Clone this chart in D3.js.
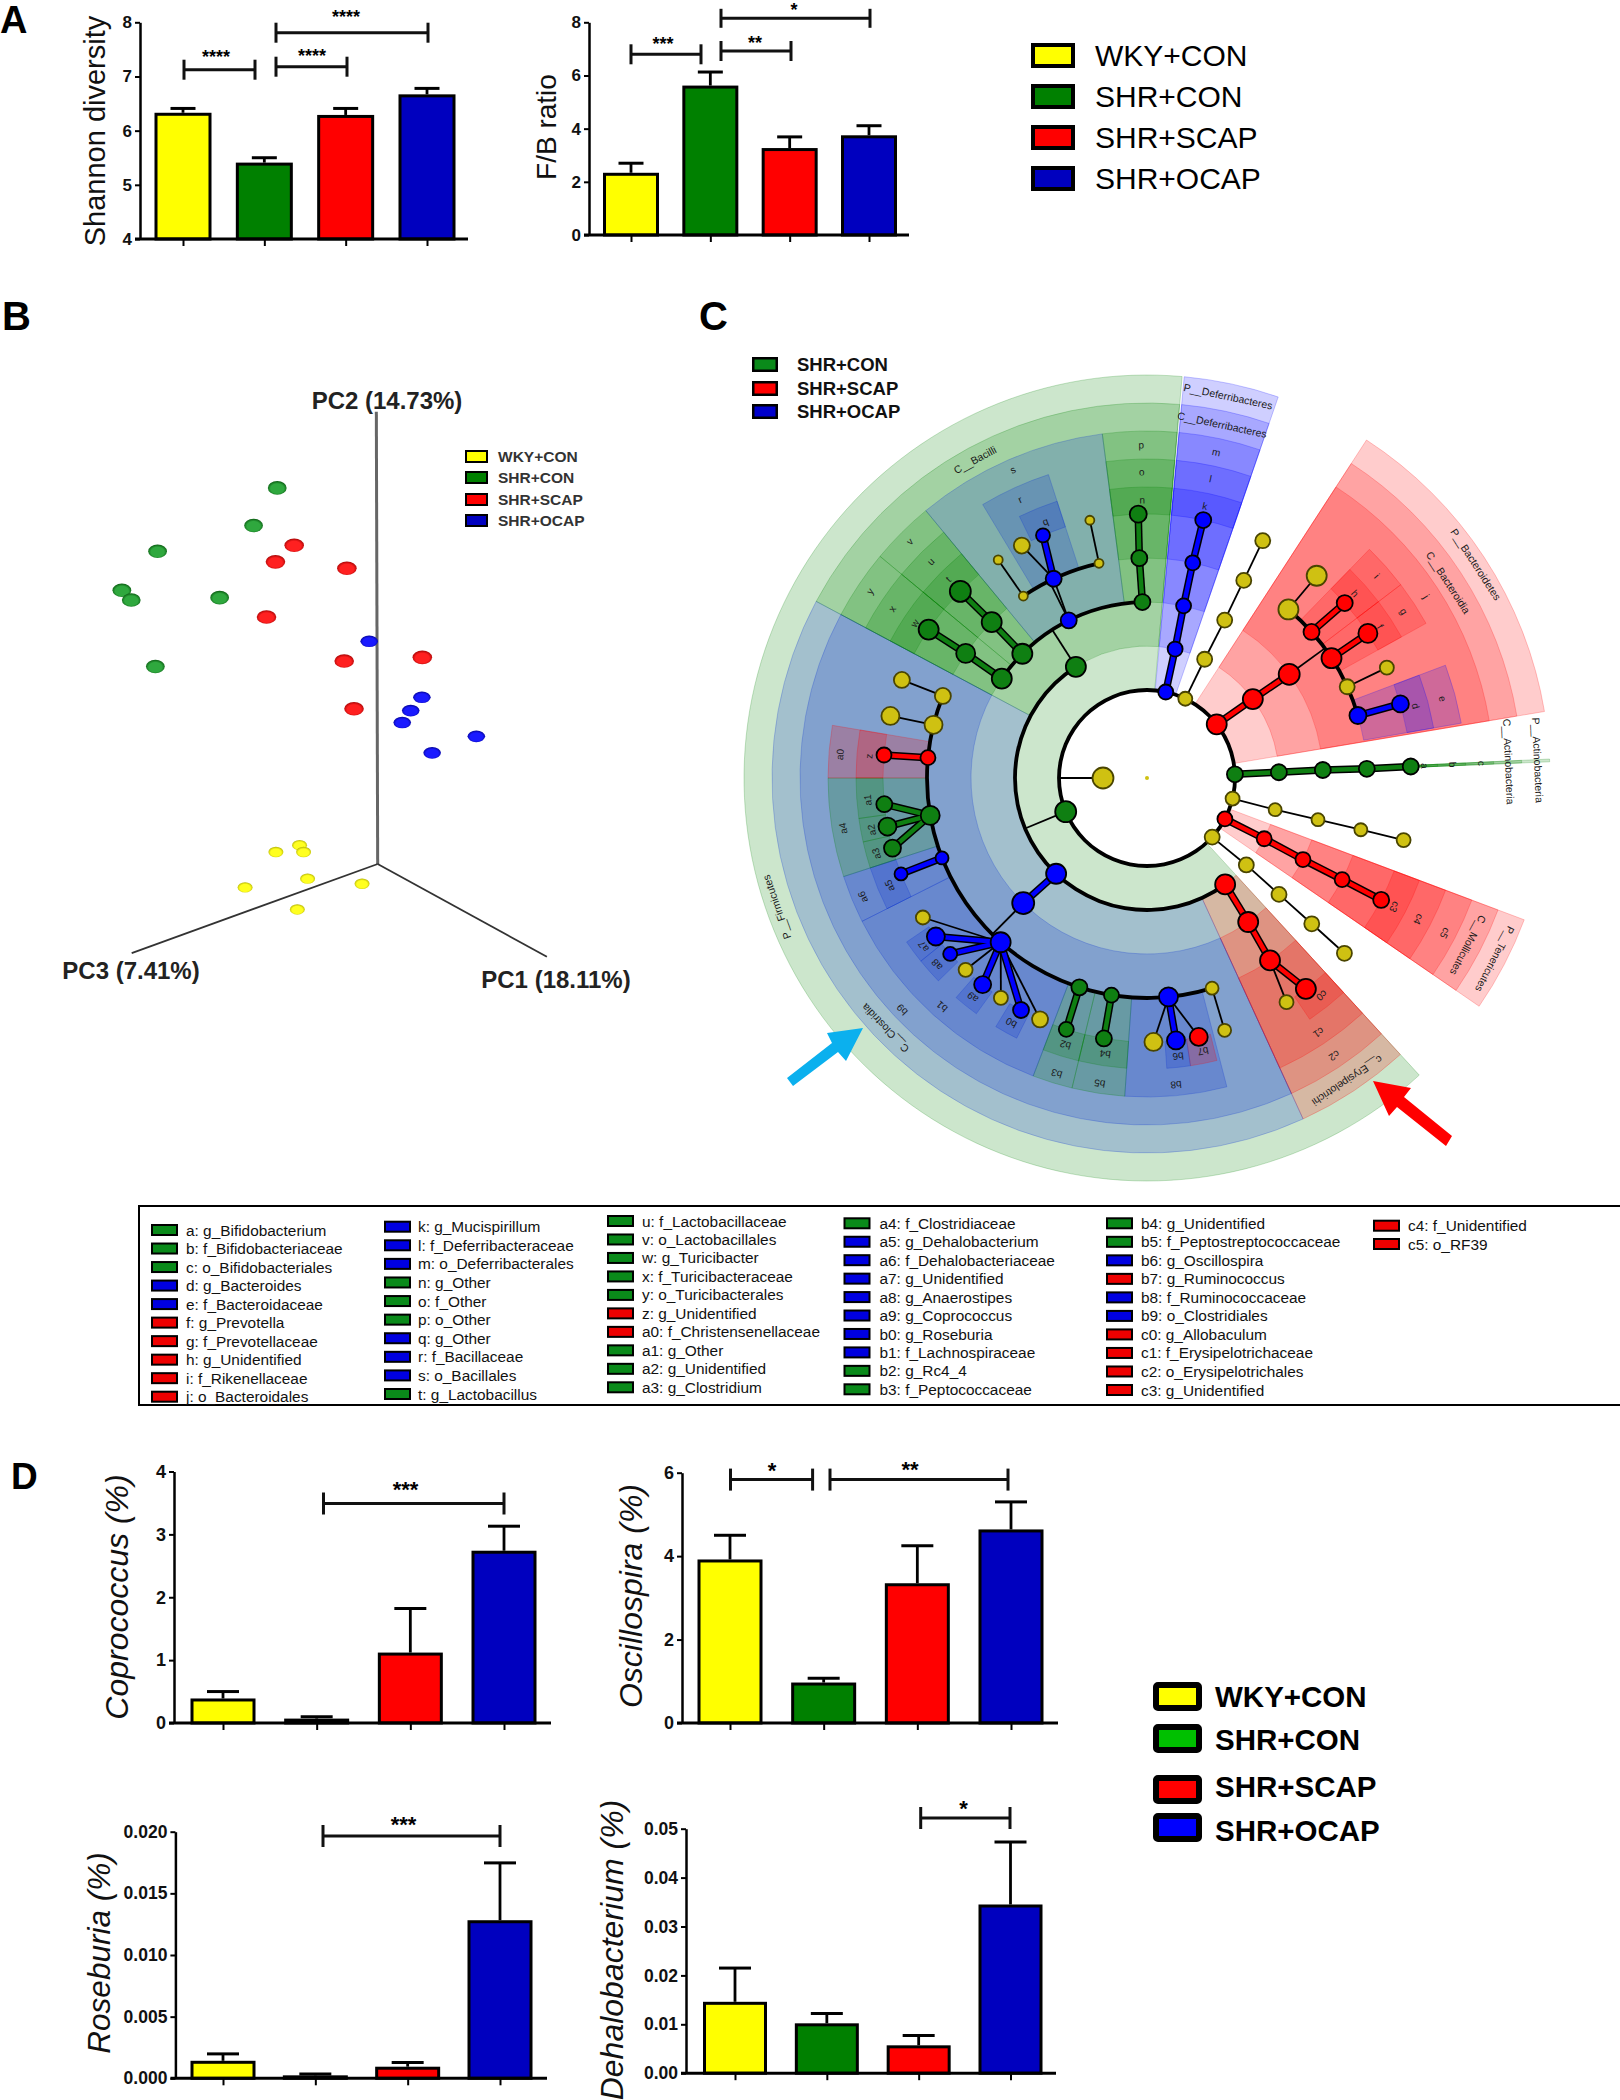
<!DOCTYPE html>
<html><head><meta charset="utf-8">
<script src="https://cdn.jsdelivr.net/npm/d3@7/dist/d3.min.js"></script>
<style>html,body{margin:0;padding:0;background:#fff}svg{display:block}text{font-family:"Liberation Sans",Arial,sans-serif}</style>
</head><body><svg id="c" width="1620" height="2100" viewBox="0 0 1620 2100"></svg>
<script>
// ---------- DATA ----------
const groups = ["WKY+CON","SHR+CON","SHR+SCAP","SHR+OCAP"];
const barColors = ["#ffff00","#008000","#ff0000","#0000bf"];
const shannonMean = [6.33,5.41,6.29,6.67], shannonTop = [6.41,5.50,6.41,6.78];
const fbMean = [2.34,5.62,3.27,3.75], fbTop = [2.70,6.13,3.69,4.11];
const coproMean = [0.39,0.07,1.12,2.74], coproTop = [0.50,0.10,1.82,3.13];
const oscilloMean = [3.92,0.97,3.35,4.64], oscilloTop = [4.50,1.07,4.25,5.30];
const rosebMean = [0.00142,0.00024,0.00094,0.01282], rosebTop = [0.00198,0.00035,0.00128,0.01747];
const dehaloMean = [0.0146,0.0102,0.0057,0.0345], dehaloTop = [0.0215,0.0122,0.0077,0.0473];

// PCoA projected scores (arbitrary screen-plane units)
const pcaGreenX=[621,568,353,273,294,492,348], pcaGreenY=[431,513,569,654,675,670,820];
const pcaRedX=[659,617,777,597,771,946,793], pcaRedY=[556,592,606,712,808,800,912];
const pcaBlueX=[827,945,920,901,1067,968], pcaBlueY=[765,887,916,942,972,1008];
const pcaYellowX=[671,680,618,689,549,811,666], pcaYellowY=[1209,1224,1224,1282,1301,1293,1349];

// Cladogram: shaded clades [level, startDeg, endDeg, colourKey]
const cladeWedges=[
[2,5.3,19,'b'],[2,33,80.5,'r'],[2,87.3,87.7,'g'],[2,110.6,124.5,'r'],[2,137.5,365,'g'],
[3,5.3,19,'b'],[3,33,80.5,'r'],[3,87.3,87.7,'g'],[3,110.6,124.5,'r'],[3,137.5,155.4,'r'],[3,155.4,298.1,'B'],[3,298.1,365,'g'],
[4,5.3,19,'b'],[4,33,80.5,'r'],[4,87.3,87.7,'g'],[4,110.6,124.5,'r'],[4,137.5,155.4,'r'],[4,155.4,298.1,'B'],[4,298.1,309.7,'g'],[4,309.7,320.4,'g'],[4,320.4,352.6,'B'],[4,352.6,365,'g'],
[5,5.3,19,'b'],[5,44.2,52.7,'r'],[5,52.7,61,'r'],[5,69.3,80.1,'b'],[5,87.3,87.7,'g'],[5,110.6,124.5,'r'],[5,137.5,155.4,'r'],[5,165.5,184,'B'],[5,184,193.6,'g'],[5,193.6,200.9,'g'],[5,200.9,243.3,'B'],[5,243.3,252,'B'],[5,252,270,'g'],[5,270,279.5,'r'],[5,298.1,309.7,'g'],[5,309.7,320.4,'g'],[5,329,342,'B'],[5,352.6,365,'g'],
[6,5.3,19,'b'],[6,44.2,52.7,'r'],[6,52.7,61,'r'],[6,69.3,80.1,'b'],[6,87.3,87.7,'g'],[6,110.6,124.5,'r'],[6,137.5,146,'r'],[6,166.1,171.4,'r'],[6,171.4,176.1,'B'],[6,184,193.6,'g'],[6,193.6,200.9,'g'],[6,206.6,211.3,'B'],[6,215.9,221,'B'],[6,225.8,231,'B'],[6,231,235.7,'B'],[6,243.3,252,'B'],[6,252,257.3,'g'],[6,257.3,262,'g'],[6,262,270,'g'],[6,270,279.5,'r'],[6,298.1,309.7,'g'],[6,309.7,320.4,'g'],[6,334,342,'B'],[6,352.6,365,'g']];
// arcs [level, startDeg, endDeg]; stems [level, deg]
const treeArcs=[[2,0,360],[3,143.7,327.4],[4,304.4,358.5],[5,40,73.5],[5,325.8,347.4],[5,162.8,291.9]];
const treeStems=[[1,270],[2,247.5],[3,327.4],[4,224.7],[4,333.6],[4,53.9]];
// nodes [id, level, deg, colourKey, size, parent, link]
const treeNodes=[
["R",0,0,'y',2],["K",1,270,'y',10.5],
["F",2,247.5,'g',10.5],["De",2,12.3,'b',7.5],["Y1",2,25.8,'y',7],["Ba",2,52.4,'r',10],["Ac",2,87.6,'g',8],["Y2",2,103.5,'y',7],["Te",2,117.7,'r',7.5],["Y3",2,132.2,'y',7.5],
["De3",3,12.3,'b',7.5,"De",'c'],["De4",4,12,'b',7.5,"De3",'c'],["De5",5,12,'b',7.5,"De4",'c'],["De6",6,12.3,'b',8,"De5",'c'],
["Y13",3,25.9,'y',7.5,"Y1",'t'],["Y14",4,26.2,'y',7.5,"Y13",'t'],["Y15",5,26.1,'y',7.5,"Y14",'t'],["Y16",6,26,'y',7.5,"Y15",'t'],
["Ba3",3,53.3,'r',10,"Ba",'c'],["Ba4",4,53.9,'r',10.5,"Ba3",'c'],
["Bf1",5,40,'y',10],["Bf2",5,48.4,'r',8],["Bf3",5,57,'r',10],["Bf4",5,65.5,'y',7.5],["Bf5",5,73.5,'b',8.5],
["Bg1",6,40,'y',10,"Bf1",'t'],["Bg2",6,48.5,'r',8,"Bf2",'c'],["Bg3",6,56.8,'r',9.5,"Bf3",'c'],["Bg4",6,65.3,'y',7,"Bf4",'t'],["Bg5",6,73.7,'b',8.5,"Bf5",'c'],
["Ac3",3,87.5,'g',8,"Ac",'c'],["Ac4",4,87.4,'g',8,"Ac3",'c'],["Ac5",5,87.6,'g',8,"Ac4",'c'],["Ac6",6,87.5,'g',8,"Ac5",'c'],
["Y23",3,103.9,'y',6.5,"Y2",'t'],["Y24",4,103.7,'y',6.5,"Y23",'t'],["Y25",5,103.6,'y',6.5,"Y24",'t'],["Y26",6,103.6,'y',7,"Y25",'t'],
["Te3",3,117.4,'r',7.5,"Te",'c'],["Te4",4,117.6,'r',7.5,"Te3",'c'],["Te5",5,117.5,'r',7.5,"Te4",'c'],["Te6",6,117.5,'r',8,"Te5",'c'],
["Y33",3,131.2,'y',7.5,"Y3",'t'],["Y34",4,131.4,'y',7.5,"Y33",'t'],["Y35",5,131.5,'y',7.5,"Y34",'t'],["Y36",6,131.6,'y',7.5,"Y35",'t'],
["Er",3,143.7,'r',10],["Er4",4,144.9,'r',10,"Er",'c'],["Er5",5,146,'r',10,"Er4",'c'],["Er6",6,143,'r',10,"Er5",'c'],["Er7",6,148.1,'y',7,"Er5",'t'],
["Cl",3,223.5,'b',10],["Cl4",4,224.7,'b',11,"Cl",'c'],
["Fa1",5,162.8,'y',6.5],["Ga1",6,162.9,'y',6.5,"Fa1",'t'],
["Fa2",5,174.4,'b',9.5],["Ga2",6,178.6,'y',9,"Fa2",'t'],["Ga3",6,173.7,'b',9,"Fa2",'c'],["Ga4",6,168.7,'r',9,"Fa2",'t'],
["Fa3",5,189.3,'g',7.5],["Ga5",6,189.4,'g',8,"Fa3",'c'],
["Fa4",5,197.9,'g',8],["Ga6",6,197.8,'g',7.5,"Fa4",'c'],
["Fa5",5,221.7,'b',10],["Ga7",6,238.1,'y',7,"Fa5",'t'],["Ga8",6,233.1,'b',9,"Fa5",'c'],["Ga9",6,228.2,'b',7,"Fa5",'c'],["Ga10",6,223.4,'y',7,"Fa5",'t'],["Ga11",6,218.5,'b',8.5,"Fa5",'c'],["Ga12",6,213.6,'y',7,"Fa5",'t'],["Ga13",6,208.5,'b',8,"Fa5",'c'],["Ga14",6,203.9,'y',8,"Fa5",'t'],
["Fa6",5,248.7,'b',6.5],["Ga15",6,248.7,'b',6.5,"Fa6",'c'],
["Fa7",5,260.2,'g',9.5],["Ga16",6,264.3,'g',8,"Fa7",'c'],["Ga17",6,259.4,'g',9,"Fa7",'c'],["Ga18",6,254.6,'g',8.5,"Fa7",'c'],
["Fa8",5,275.3,'r',7.5],["Ga19",6,275,'r',7.5,"Fa8",'c'],
["Fa9",5,284,'y',9],["Ga20",6,283.6,'y',9,"Fa9",'t'],
["Fa10",5,291.9,'y',8],["Ga21",6,291.8,'y',8,"Fa10",'t'],
["Bc",3,327.4,'g',10],
["O1",4,304.4,'g',10],["O2",4,314.9,'g',10],["O3",4,333.6,'b',8],["O4",4,358.5,'g',8],
["O1f",5,304.5,'g',9.5,"O1",'c'],["O1g",6,304.2,'g',10,"O1f",'c'],
["O2f",5,315.1,'g',10,"O2",'c'],["O2g",6,315,'g',10.5,"O2f",'c'],
["O3a",5,325.8,'y',4.5],["O3b",5,334.9,'b',8,"O3",'t'],["O3c",5,347.4,'y',4.5],
["O3d",6,325.7,'y',4.5,"O3a",'t'],["O3e",6,331.7,'y',8,"O3b",'t'],["O3f",6,336.8,'b',7,"O3b",'c'],["O3g",6,347.5,'y',4.5,"O3c",'t'],
["O4f",5,358,'g',8,"O4",'c'],["O4g",6,358.1,'g',8.5,"O4f",'c']];
// clade labels [text, radius, deg]
const cladeLabels=[
["P__Deferribacteres",390,12],["C__Deferribacteres",361,12],["m",333,12],["l",306,12],["k",278,12],
["P__Bacteroidetes",392,57],["C__Bacteroidia",359,57],["j",333,57],["i",306,48.7],["h",278,48.4],["g",306,57],["f",278,57],["e",306,75],["d",278,75],
["P__Actinobacteria",391,87.4],["C__Actinobacteria",362,87.4],["c",335,87.5],["b",306,87.5],["a",278,87.5],
["P__Tenericutes",392,117.5],["C__Mollicutes",362,117.5],["c5",336,117.5],["c4",306,117.5],["c3",279,117.5],
["c__Erysipelotrichi",363,146.5],["c2",335,146],["c1",307,146],["c0",279,141.2],
["b8",308,174.6],["b7",279,168.4],["b6",280,173.6],["b5",309,188.8],["b4",279,188.6],["b3",309,197],["b2",279,197],["b1",307,221.9],["b0",280,209],["a9",280,218.5],["a8",281,228.4],["a7",280,233],["a6",308,247.3],["a5",279,247.3],["a4",308,260.6],["a3",281,254.4],["a2",280,259.3],["a1",280,265.5],["a0",308,274.4],
["b9",337,226.6],["C__Clostridia",362,226.3],["P__Firmicutes",392,250.8],
["z",279,274.5],["y",334,304],["x",306,303.6],["w",279,303.7],["v",335,314.9],["u",306,315],["t",281,315],["s",336,336.5],["r",306,335.5],["q",276,338.4],["C__Bacilli",361.6,331.6],["p",333,359],["o",306,359],["n",278,359]];
// taxon key
const taxonCol1=[["a: g_Bifidobacterium","g"],["b: f_Bifidobacteriaceae","g"],["c: o_Bifidobacteriales","g"],["d: g_Bacteroides","b"],["e: f_Bacteroidaceae","b"],["f: g_Prevotella","r"],["g: f_Prevotellaceae","r"],["h: g_Unidentified","r"],["i: f_Rikenellaceae","r"],["j: o_Bacteroidales","r"]];
const taxonCol2=[["k: g_Mucispirillum","b"],["l: f_Deferribacteraceae","b"],["m: o_Deferribacterales","b"],["n: g_Other","g"],["o: f_Other","g"],["p: o_Other","g"],["q: g_Other","b"],["r: f_Bacillaceae","b"],["s: o_Bacillales","b"],["t: g_Lactobacillus","g"]];
const taxonCol3=[["u: f_Lactobacillaceae","g"],["v: o_Lactobacillales","g"],["w: g_Turicibacter","g"],["x: f_Turicibacteraceae","g"],["y: o_Turicibacterales","g"],["z: g_Unidentified","r"],["a0: f_Christensenellaceae","r"],["a1: g_Other","g"],["a2: g_Unidentified","g"],["a3: g_Clostridium","g"]];
const taxonCol4=[["a4: f_Clostridiaceae","g"],["a5: g_Dehalobacterium","b"],["a6: f_Dehalobacteriaceae","b"],["a7: g_Unidentified","b"],["a8: g_Anaerostipes","b"],["a9: g_Coprococcus","b"],["b0: g_Roseburia","b"],["b1: f_Lachnospiraceae","b"],["b2: g_Rc4_4","g"],["b3: f_Peptococcaceae","g"]];
const taxonCol5=[["b4: g_Unidentified","g"],["b5: f_Peptostreptococcaceae","g"],["b6: g_Oscillospira","b"],["b7: g_Ruminococcus","r"],["b8: f_Ruminococcaceae","b"],["b9: o_Clostridiales","b"],["c0: g_Allobaculum","r"],["c1: f_Erysipelotrichaceae","r"],["c2: o_Erysipelotrichales","r"],["c3: g_Unidentified","r"]];
const taxonCol6=[["c4: f_Unidentified","r"],["c5: o_RF39","r"]];

// ---------- DRAWING ----------
const svg=d3.select("#c");
const INK="#000";
function panelLetter(t,x,y,size){svg.append("text").attr("x",x).attr("y",y).attr("font-size",size).attr("font-weight","bold").text(t);}
panelLetter("A",0,33,38);panelLetter("B",2,330,40);panelLetter("C",699,330,40);panelLetter("D",11,1489,37);

function barPanel(o){
  const g=svg.append("g");
  const y=d3.scaleLinear().domain(o.domain).range([o.y0,o.y1]);
  const x=d3.scalePoint().domain(groups).range(o.centers);
  const ya=g.append("g").attr("transform",`translate(${o.ax},0)`).call(d3.axisLeft(y).tickValues(o.ticks).tickSize(5).tickSizeOuter(0).tickFormat(d3.format(o.fmt)));
  ya.selectAll("text").attr("font-size",o.tickFont).attr("font-weight","bold").attr("font-family",'"Liberation Sans"').attr("fill","#111");
  ya.selectAll("line").attr("stroke",INK).attr("stroke-width",2);
  ya.select(".domain").attr("stroke",INK).attr("stroke-width",2.5);
  const xa=g.append("g").attr("transform",`translate(0,${o.y0})`).call(d3.axisBottom(x).tickSize(7).tickFormat(""));
  xa.select(".domain").remove();
  xa.selectAll("line").attr("stroke",INK).attr("stroke-width",2);
  groups.forEach((k,i)=>{
    const c=x(k),top=o.top[i],m=o.mean[i];
    g.append("line").attr("x1",c).attr("x2",c).attr("y1",y(m)).attr("y2",y(top)).attr("stroke",INK).attr("stroke-width",2.8);
    g.append("line").attr("x1",c-o.cap/2).attr("x2",c+o.cap/2).attr("y1",y(top)).attr("y2",y(top)).attr("stroke",INK).attr("stroke-width",3);
    const base=y(o.domain[0]), inset=1.5, h=Math.max(base-y(m)-inset,0.5);
    g.append("rect").attr("x",c-o.barW/2).attr("y",base-h).attr("width",o.barW).attr("height",h)
      .attr("fill",barColors[i]).attr("stroke",INK).attr("stroke-width",3);
  });
  g.append("line").attr("x1",o.ax-5).attr("x2",o.xEnd).attr("y1",o.y0).attr("y2",o.y0).attr("stroke",INK).attr("stroke-width",3);
  (o.sig||[]).forEach(s=>{
    g.append("line").attr("x1",s.x1).attr("x2",s.x2).attr("y1",s.y).attr("y2",s.y).attr("stroke","#111").attr("stroke-width",3);
    [s.x1,s.x2].forEach(px=>g.append("line").attr("x1",px).attr("x2",px).attr("y1",s.y-s.h).attr("y2",s.y+s.h).attr("stroke","#111").attr("stroke-width",3));
    g.append("text").attr("x",s.sx).attr("y",s.sy+o.starFont*0.57).attr("text-anchor","middle").attr("font-size",o.starFont).attr("font-weight","bold").text(s.t);
  });
  g.append("text").attr("transform",`translate(${o.lx},${o.ly}) rotate(-90)`).attr("text-anchor","middle")
    .attr("font-size",o.labFont).attr("font-style",o.italic?"italic":"normal").attr("fill","#111").text(o.label);
}
barPanel({label:"Shannon diversity",lx:105,ly:131,labFont:29,mean:shannonMean,top:shannonTop,domain:[4,8],ticks:[4,5,6,7,8],fmt:"d",ax:140,xEnd:468,y0:239,y1:22.3,centers:[183,427],barW:54,cap:25,tickFont:17,starFont:18,
 sig:[{x1:184,x2:255,y:69.7,h:10,sx:216,sy:53,t:"****"},{x1:276,x2:347,y:66.7,h:10,sx:312,sy:52,t:"****"},{x1:276,x2:428,y:32.7,h:10,sx:346,sy:13,t:"****"}]});
barPanel({label:"F/B ratio",lx:556,ly:127,labFont:28,mean:fbMean,top:fbTop,domain:[0,8],ticks:[0,2,4,6,8],fmt:"d",ax:589,xEnd:909,y0:235,y1:22.3,centers:[631,869],barW:53,cap:25,tickFont:17,starFont:18,
 sig:[{x1:631,x2:701,y:54.3,h:10,sx:663,sy:40,t:"***"},{x1:721,x2:791,y:51,h:10,sx:755,sy:39,t:"**"},{x1:721,x2:870,y:18.3,h:9.5,sx:794,sy:6,t:"*"}]});
barPanel({label:"Coprococcus (%)",lx:128,ly:1597,labFont:32,italic:true,mean:coproMean,top:coproTop,domain:[0,4],ticks:[0,1,2,3,4],fmt:"d",ax:174,xEnd:551,y0:1723,y1:1471.5,centers:[223,504],barW:62,cap:32,tickFont:18,starFont:22,
 sig:[{x1:323.5,x2:504,y:1503.5,h:11,sx:405.6,sy:1484.7,t:"***"}]});
barPanel({label:"Oscillospira (%)",lx:642,ly:1596,labFont:32,italic:true,mean:oscilloMean,top:oscilloTop,domain:[0,6],ticks:[0,2,4,6],fmt:"d",ax:682,xEnd:1058,y0:1723,y1:1472.7,centers:[730,1011],barW:62,cap:32,tickFont:18,starFont:22,
 sig:[{x1:730.5,x2:812.6,y:1479.6,h:11,sx:772,sy:1465,t:"*"},{x1:830,x2:1008,y:1479.6,h:11,sx:910,sy:1464,t:"**"}]});
barPanel({label:"Roseburia (%)",lx:110,ly:1953,labFont:31.5,italic:true,mean:rosebMean,top:rosebTop,domain:[0,0.02],ticks:[0,0.005,0.01,0.015,0.02],fmt:".3f",ax:175.4,xEnd:547,y0:2078.3,y1:1831.7,centers:[223,500],barW:62,cap:32,tickFont:17.5,starFont:22,
 sig:[{x1:323,x2:500,y:1836,h:11,sx:403.5,sy:1819,t:"***"}]});
barPanel({label:"Dehalobacterium (%)",lx:623,ly:1950,labFont:32,italic:true,mean:dehaloMean,top:dehaloTop,domain:[0,0.05],ticks:[0,0.01,0.02,0.03,0.04,0.05],fmt:".2f",ax:686,xEnd:1056,y0:2073.2,y1:1828.7,centers:[735,1010.5],barW:61,cap:32,tickFont:17.5,starFont:22,
 sig:[{x1:920.7,x2:1010,y:1818,h:11,sx:963.5,sy:1803,t:"*"}]});

function keyLegend(o){
  o.items.forEach((t,i)=>{
    const y=o.ys[i];
    svg.append("rect").attr("x",o.x+o.sw/2).attr("y",y+o.sw/2).attr("width",o.w-o.sw).attr("height",o.h-o.sw).attr("rx",o.rx||0)
      .attr("fill",o.colors[i]).attr("stroke","#000").attr("stroke-width",o.sw);
    const ty=o.tys?o.tys[i]:y+o.h/2;
    svg.append("text").attr("x",o.tx).attr("y",ty).attr("dy","0.36em").attr("font-size",o.font).attr("font-weight",o.weight||"normal").attr("fill",o.ink||"#000").text(t);
  });
}
keyLegend({items:groups,colors:barColors,x:1031,ys:[43,84,125,166],w:44,h:25,sw:4,tx:1095,font:30});
keyLegend({items:groups,colors:barColors,x:465,ys:[450,471,493,514],w:23,h:13,sw:2,tx:498,font:15.5,weight:"bold",ink:"#333"});
keyLegend({items:groups.slice(1),colors:["#0a8a1a","#ff0000","#0000cc"],x:752,ys:[357,381,404],w:26,h:15,sw:2.5,tx:797,font:18.5,weight:"bold",ink:"#111"});
keyLegend({items:groups,colors:["#ffff00","#00c000","#ff0000","#0000ff"],x:1153,ys:[1682,1724,1775,1813],tys:[1696,1739,1786.7,1830],w:49,h:29,sw:6,rx:2,tx:1215,font:29.5,weight:"bold"});

// ---------- B: PCoA ----------
(function(){
  const px=d3.scaleLinear().domain([0,1568]).range([0,700]);
  const py=d3.scaleLinear().domain([0,1568]).range([290,1010]);
  const defs=svg.append("defs");
  [["gG","#2fa83e","#04500a"],["rG","#ff2020","#980000"],["bG","#1a1aff","#000088"],["yG","#ffff20","#a8a800"]].forEach(([id,a,b])=>{
    const g=defs.append("radialGradient").attr("id",id).attr("cx","50%").attr("cy","55%").attr("r","58%");
    g.append("stop").attr("offset","0%").attr("stop-color",a);g.append("stop").attr("offset","60%").attr("stop-color",a);g.append("stop").attr("offset","100%").attr("stop-color",b);
  });
  const g=svg.append("g");
  g.append("line").attr("x1",px(843)).attr("y1",py(265)).attr("x2",px(846)).attr("y2",py(1250)).attr("stroke","#666").attr("stroke-width",3);
  g.append("line").attr("x1",px(846)).attr("y1",py(1250)).attr("x2",px(295)).attr("y2",py(1444)).attr("stroke","#333").attr("stroke-width",1.8);
  g.append("line").attr("x1",px(846)).attr("y1",py(1250)).attr("x2",px(1225)).attr("y2",py(1452)).attr("stroke","#333").attr("stroke-width",1.8);
  [[pcaGreenX,pcaGreenY,"gG",9.4,6.8],[pcaRedX,pcaRedY,"rG",9.8,6.8],[pcaBlueX,pcaBlueY,"bG",8.8,5.8],[pcaYellowX,pcaYellowY,"yG",7.5,5.2]].forEach(([xs,ys,id,rx,ry])=>{
    xs.forEach((v,i)=>g.append("ellipse").attr("cx",px(v)).attr("cy",py(ys[i])).attr("rx",rx).attr("ry",ry).attr("fill",`url(#${id})`));
  });
  [["PC2 (14.73%)",387,400],["PC3 (7.41%)",131,970],["PC1 (18.11%)",556,979]].forEach(([t,x,y])=>
    svg.append("text").attr("x",x).attr("y",y).attr("dy","0.36em").attr("text-anchor","middle").attr("font-size",24).attr("font-weight","bold").attr("fill","#222").text(t));
})();

// ---------- C: cladogram ----------
(function(){
  const CX=1147,CY=778;
  const rad=d3.scaleLinear().domain([0,6]).range([0,264]);
  const outer=d3.scaleLinear().domain([2,6]).range([403,291]);
  const ang=d3.scaleLinear().domain([0,360]).range([0,2*Math.PI]);
  const pol=(r,deg)=>[CX+r*Math.sin(ang(deg)),CY-r*Math.cos(ang(deg))];
  const colors={g:"rgb(0,128,0)",r:"rgb(255,0,0)",b:"rgb(0,0,255)",B:"rgb(0,40,210)"};
  const alpha={g:.2,r:.2,b:.19,B:.2};
  const nodeFill={g:"#0f7f12",r:"#ff0000",b:"#0000ff",y:"#cfc112"};
  const g=svg.append("g");
  const arc=d3.arc();
  const wg=g.append("g").attr("transform",`translate(${CX},${CY})`);
  cladeWedges.forEach(([lv,s,e,k])=>{
    wg.append("path").attr("d",arc({innerRadius:rad(lv),outerRadius:outer(lv),startAngle:ang(s),endAngle:ang(e)}))
      .attr("fill",colors[k]).attr("fill-opacity",alpha[k]).attr("stroke",colors[k]).attr("stroke-opacity",.22).attr("stroke-width",1);
  });
  cladeLabels.forEach(([t,r,d])=>{
    const [x,y]=pol(r,d);
    const long=t.length>2;
    g.append("text").attr("transform",`translate(${x},${y}) rotate(${d})`).attr("text-anchor","middle").attr("dy","0.35em")
      .attr("font-size",long?10.5:10).attr("fill","#1a1a1a").text(t);
  });
  const ag=g.append("g").attr("transform",`translate(${CX},${CY})`);
  treeArcs.forEach(([lv,s,e])=>{
    const r=rad(lv);
    ag.append("path").attr("d",arc({innerRadius:r-1.9,outerRadius:r+1.9,startAngle:ang(s),endAngle:ang(e)})).attr("fill","#000");
  });
  treeStems.forEach(([lv,d])=>{
    const a=pol(rad(lv),d),b=pol(rad(lv+1),d);
    g.append("line").attr("x1",a[0]).attr("y1",a[1]).attr("x2",b[0]).attr("y2",b[1]).attr("stroke","#000").attr("stroke-width",1.8);
  });
  const byId=new Map(treeNodes.map(n=>[n[0],n]));
  const P=n=>pol(rad(n[1]),n[2]);
  treeNodes.filter(n=>n[6]==='t').forEach(n=>{
    const a=P(byId.get(n[5])),b=P(n);
    g.append("line").attr("x1",a[0]).attr("y1",a[1]).attr("x2",b[0]).attr("y2",b[1]).attr("stroke","#000").attr("stroke-width",1.8);
  });
  treeNodes.filter(n=>n[6]==='c').forEach(n=>{
    const a=P(byId.get(n[5])),b=P(n);
    g.append("line").attr("x1",a[0]).attr("y1",a[1]).attr("x2",b[0]).attr("y2",b[1]).attr("stroke","#000").attr("stroke-width",7.5);
  });
  treeNodes.filter(n=>n[6]==='c').forEach(n=>{
    const a=P(byId.get(n[5])),b=P(n);
    g.append("line").attr("x1",a[0]).attr("y1",a[1]).attr("x2",b[0]).attr("y2",b[1]).attr("stroke",nodeFill[n[3]]).attr("stroke-width",4.5);
  });
  treeNodes.forEach(n=>{
    const [x,y]=P(n);
    g.append("circle").attr("cx",x).attr("cy",y).attr("r",n[4]).attr("fill",nodeFill[n[3]])
      .attr("stroke",n[3]==='y'?"#4a4500":"#000").attr("stroke-width",n[4]<3?0:1.8);
  });
  // annotation arrows
  svg.append("polygon").attr("points","863,1028 827,1033 832,1043 787,1078 793,1086 838,1052 846,1061").attr("fill","#0bb0ee");
  svg.append("polygon").attr("points","1373,1081 1411,1088 1404,1097 1452,1136 1446,1146 1397,1107 1389,1116").attr("fill","#ff0000");
})();

// ---------- taxon key ----------
(function(){
  svg.append("rect").attr("x",139).attr("y",1206).attr("width",1490).attr("height",199).attr("fill","none").attr("stroke","#000").attr("stroke-width",2);
  const fill={g:"#0a8a1a",b:"#0000e0",r:"#ee0000"};
  [[taxonCol1,151,186,1230,1396.7],[taxonCol2,384,418,1226.7,1394],[taxonCol3,607,642,1221,1387.3],[taxonCol4,843.5,879.5,1223.3,1389.3],[taxonCol5,1106,1141,1223.3,1390],[taxonCol6,1373,1408,1225.7,1244]].forEach(([col,sx,tx,y0,y1])=>{
    const y=d3.scaleLinear().domain([0,col.length-1]).range([y0,y1]);
    col.forEach(([t,k],i)=>{
      svg.append("rect").attr("x",sx+1).attr("y",y(i)-5).attr("width",25).attr("height",10).attr("fill",fill[k]).attr("stroke","#000").attr("stroke-width",2);
      svg.append("text").attr("x",tx).attr("y",y(i)).attr("dy","0.36em").attr("font-size",15.4).attr("fill","#111").text(t);
    });
  });
})();
</script></body></html>
